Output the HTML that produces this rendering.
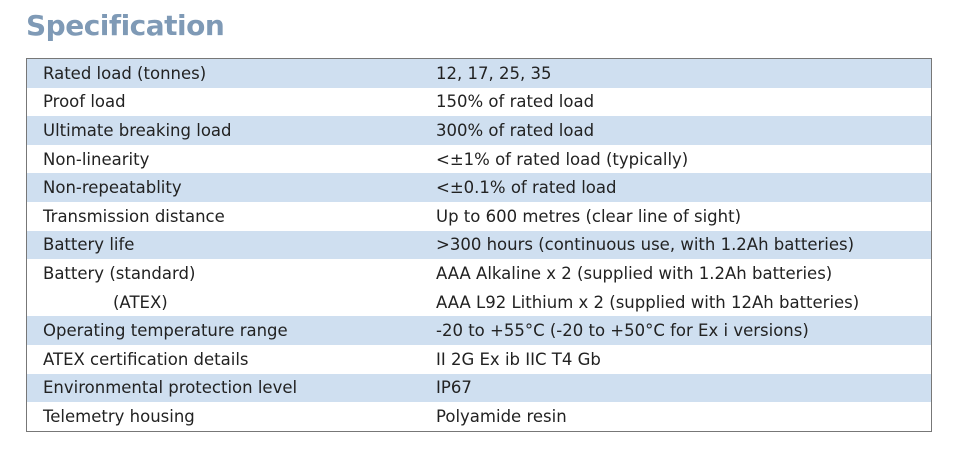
<!DOCTYPE html>
<html><head><meta charset="utf-8"><style>
body{margin:0;width:960px;height:450px;background:#fff;font-family:"DejaVu Sans","Liberation Sans",sans-serif;position:relative;overflow:hidden}
h1{position:absolute;left:26px;top:9px;margin:0;font-size:28px;font-weight:bold;color:#7f9ab6;letter-spacing:-0.5px}
table{position:absolute;left:26px;top:58px;width:906px;border-collapse:collapse;border:1.5px solid #777}
td{height:28.6px;padding:0;font-size:16.5px;color:#222;vertical-align:middle;white-space:nowrap}
td.k{padding-left:16px;width:393px}
tr.b td{background:#cfdff0}
</style></head><body>
<h1>Specification</h1>
<table>
<tr class="b"><td class="k">Rated load (tonnes)</td><td>12, 17, 25, 35</td></tr>
<tr><td class="k">Proof load</td><td>150% of rated load</td></tr>
<tr class="b"><td class="k">Ultimate breaking load</td><td>300% of rated load</td></tr>
<tr><td class="k">Non-linearity</td><td>&lt;±1% of rated load (typically)</td></tr>
<tr class="b"><td class="k">Non-repeatablity</td><td>&lt;±0.1% of rated load</td></tr>
<tr><td class="k">Transmission distance</td><td>Up to 600 metres (clear line of sight)</td></tr>
<tr class="b"><td class="k">Battery life</td><td>&gt;300 hours (continuous use, with 1.2Ah batteries)</td></tr>
<tr><td class="k">Battery (standard)</td><td>AAA Alkaline x 2 (supplied with 1.2Ah batteries)</td></tr>
<tr><td class="k" style="padding-left:86px;width:323px">(ATEX)</td><td>AAA L92 Lithium x 2 (supplied with 12Ah batteries)</td></tr>
<tr class="b"><td class="k">Operating temperature range</td><td>-20 to +55°C (-20 to +50°C for Ex i versions)</td></tr>
<tr><td class="k">ATEX certification details</td><td>II 2G Ex ib IIC T4 Gb</td></tr>
<tr class="b"><td class="k">Environmental protection level</td><td>IP67</td></tr>
<tr><td class="k">Telemetry housing</td><td>Polyamide resin</td></tr>
</table>
</body></html>
